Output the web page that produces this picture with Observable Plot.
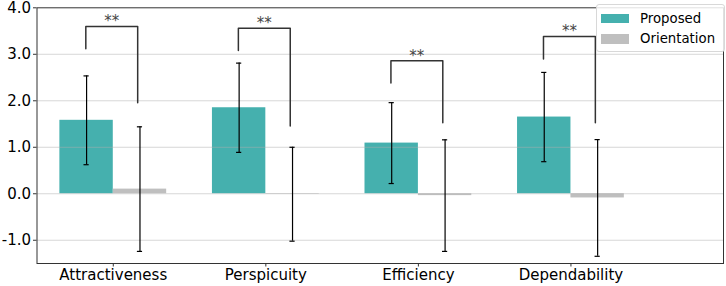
<!DOCTYPE html>
<html><head><meta charset="utf-8">
<script src="https://cdn.jsdelivr.net/npm/d3@7"></script>
<script src="https://cdn.jsdelivr.net/npm/@observablehq/plot@0.6"></script>
<style>
body{margin:0;background:#fff;font-family:"DejaVu Sans",sans-serif;}
#wrap{position:relative;width:726px;height:286px;}
.legend{position:absolute;left:596px;top:4px;width:129px;height:48px;box-sizing:border-box;border:1px solid #d8d8d8;border-radius:3px;background:rgba(255,255,255,0.85);font-size:13.3px;color:#000;}
.legend .sw{position:absolute;left:3.7px;width:28px;height:9.3px;}
.legend .lb{position:absolute;left:43px;line-height:20px;white-space:nowrap;}
</style>
</head><body>
<div id="wrap"></div>
<script>
const categories = ["Attractiveness", "Perspicuity", "Efficiency", "Dependability"];
const seriesNames = ["Proposed", "Orientation"];
const proposedMean = [1.58, 1.85, 1.09, 1.65];
const proposedSD = [0.955, 0.96, 0.87, 0.96];
const orientationMean = [0.10, -0.01, -0.04, -0.09];
const orientationSD = [1.34, 1.01, 1.20, 1.255];
const bracketLeftY = [3.12, 3.08, 2.38, 2.90];
const bracketTopY = [3.60, 3.56, 2.86, 3.38];
const bracketRightY = [1.96, 1.46, 1.53, 1.53];
const sigLabels = ["**", "**", "**", "**"];
const yTicks = [-1, 0, 1, 2, 3, 4];
const colors = ["#45B0AE", "#BFBFBF"];

const barW = 0.35;
const bars = [];
categories.forEach((c, i) => {
  bars.push({i, s: 0, x1: i - barW, x2: i, xc: i - barW / 2, m: proposedMean[i], sd: proposedSD[i]});
  bars.push({i, s: 1, x1: i, x2: i + barW, xc: i + barW / 2, m: orientationMean[i], sd: orientationSD[i]});
});
const brackets = [];
categories.forEach((c, i) => {
  const l = i - 0.18, r = i + 0.16;
  brackets.push({k: i, x: l, y: bracketLeftY[i]});
  brackets.push({k: i, x: l, y: bracketTopY[i]});
  brackets.push({k: i, x: r, y: bracketTopY[i]});
  brackets.push({k: i, x: r, y: bracketRightY[i]});
});
const stars = categories.map((c, i) => ({x: i - 0.01, y: bracketTopY[i], t: sigLabels[i]}));
const capHalf = 0.017;

const chart = Plot.plot({
  width: 726, height: 286,
  marginLeft: 36.5, marginRight: 3, marginTop: 7.3, marginBottom: 23,
  style: {fontFamily: "DejaVu Sans, sans-serif", background: "#fff", overflow: "visible"},
  x: {type: "linear", domain: [-0.5, 4.0]},
  y: {domain: [-1.5, 4.0]},
  marks: [
    Plot.rectY(bars, {x1: "x1", x2: "x2", y1: 0, y2: "m", fill: d => colors[d.s]}),
    Plot.gridY(yTicks.filter(t => t < 4), {stroke: "#b0b0b0", strokeOpacity: 0.5, strokeWidth: 1}),
    Plot.ruleX(bars, {x: "xc", y1: d => d.m - d.sd, y2: d => d.m + d.sd, stroke: "#000", strokeWidth: 1.2}),
    Plot.ruleY(bars, {y: d => d.m - d.sd, x1: d => d.xc - capHalf, x2: d => d.xc + capHalf, stroke: "#000", strokeWidth: 1.2}),
    Plot.ruleY(bars, {y: d => d.m + d.sd, x1: d => d.xc - capHalf, x2: d => d.xc + capHalf, stroke: "#000", strokeWidth: 1.2}),
    Plot.line(brackets, {x: "x", y: "y", z: "k", stroke: "#333", strokeWidth: 1.5, curve: "linear"}),
    Plot.text(stars, {x: "x", y: "y", text: "t", dy: -5, lineAnchor: "middle", fontSize: 15, fill: "#444"}),
    Plot.frame({stroke: "#333", strokeWidth: 1}),
    Plot.axisY(yTicks, {tickFormat: d => d.toFixed(1), tickSize: 3.5, tickPadding: 2.5, fontSize: 15, stroke: "#333", fill: "#000", label: null}),
    Plot.axisX([0, 1, 2, 3], {tickFormat: d => categories[d], tickSize: 3.5, tickPadding: 2.5, fontSize: 15, stroke: "#333", fill: "#000", label: null})
  ]
});
const wrap = document.getElementById("wrap");
wrap.appendChild(chart);

const lg = document.createElement("div");
lg.className = "legend";
seriesNames.forEach((n, k) => {
  const sw = document.createElement("div");
  sw.className = "sw";
  sw.style.top = (9 + k * 20.3) + "px";
  sw.style.background = colors[k];
  lg.appendChild(sw);
  const lb = document.createElement("div");
  lb.className = "lb";
  lb.style.top = (3.7 + k * 20.3) + "px";
  lb.textContent = n;
  lg.appendChild(lb);
});
wrap.appendChild(lg);
</script>
</body></html>
